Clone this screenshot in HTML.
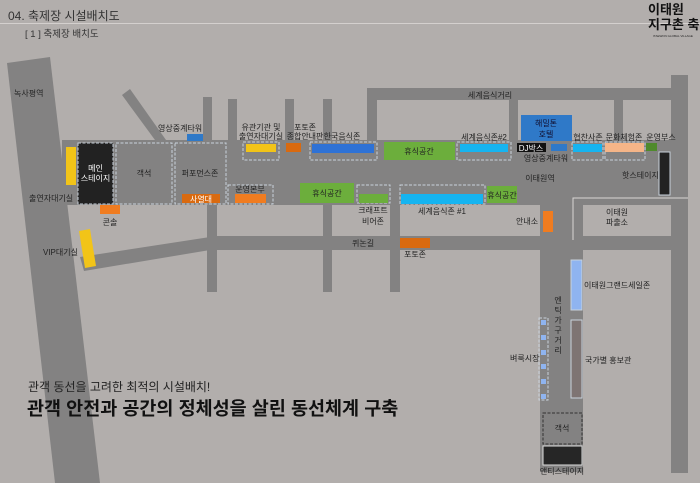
<!DOCTYPE html>
<html><head><meta charset="utf-8"><style>
html,body{margin:0;padding:0;background:#b2aeac;}
svg{display:block;font-family:"Liberation Sans","Noto Sans CJK KR",sans-serif;}
.t{font-size:8px;fill:#222;}
.w{font-size:8px;fill:#fff;}
.d{fill:none;stroke:#c9d3dc;stroke-width:1;stroke-dasharray:3 1.5;}
</style></head><body>
<svg width="700" height="483" viewBox="0 0 700 483" xmlns="http://www.w3.org/2000/svg">
<rect width="700" height="483" fill="#b2aeac"/>
<text x="8" y="20" style="font-size:12px;fill:#333">04. 축제장 시설배치도</text>
<line x1="0" y1="23.5" x2="700" y2="23.5" stroke="#d4d0ce" stroke-width="1"/>
<text x="25" y="37" style="font-size:9.5px;fill:#333">[ 1 ] 축제장 배치도</text>
<text x="648" y="14" style="font-size:13px;font-weight:bold;fill:#111">이태원</text>
<text x="648" y="29" style="font-size:13px;font-weight:bold;fill:#111">지구촌 축</text>
<text x="653" y="37" style="font-size:3px;fill:#222">ITAEWON GLOBAL VILLAGE</text>

<g fill="#838282">
<polygon points="7,63 50,57 100,483 55,483"/>
<rect x="62" y="140" width="626" height="65"/>
<rect x="671" y="75" width="17" height="398"/>
<rect x="367" y="88" width="321" height="12"/>
<rect x="367" y="88" width="10" height="55"/>
<rect x="509" y="88" width="9" height="55"/>
<rect x="614" y="95" width="9" height="48"/>
<rect x="203" y="97" width="9" height="45"/>
<rect x="228" y="99" width="9" height="43"/>
<rect x="285" y="99" width="9" height="43"/>
<rect x="323" y="99" width="9" height="43"/>
<polygon points="122,95 130,89 166,140 155,140"/>
<rect x="207" y="200" width="10" height="92"/>
<rect x="323" y="200" width="9" height="92"/>
<rect x="390" y="200" width="10" height="92"/>
<rect x="207" y="236" width="481" height="14"/>
<polygon points="80,257 210,237 210,250 84,271"/>
<rect x="540" y="200" width="43" height="272"/>
</g>
<rect x="585" y="206" width="86" height="30" fill="#b2aeac"/>
<polyline points="573,240 573,198 688,198" fill="none" stroke="#d8d6d4" stroke-width="1"/>

<rect x="66" y="147" width="10" height="38" fill="#f2c418"/>
<rect x="78" y="143" width="35" height="61" fill="#222"/>
<rect x="78" y="143" width="35" height="61" class="d"/>
<text x="95.5" y="171" class="w" text-anchor="middle">메인</text>
<text x="95.5" y="181" class="w" text-anchor="middle">스테이지</text>
<rect x="116" y="143" width="56" height="61" class="d"/>
<text x="144" y="176" class="t" text-anchor="middle">객석</text>
<rect x="175" y="143" width="51" height="61" class="d"/>
<text x="200" y="176" class="t" text-anchor="middle">퍼포먼스존</text>
<rect x="182" y="194" width="38" height="9" fill="#d96a10"/>
<text x="201" y="202" class="w" text-anchor="middle">사열대</text>
<rect x="228" y="185" width="45" height="19" class="d"/>
<rect x="235" y="194" width="31" height="9" fill="#f07c20"/>
<text x="250" y="192" class="t" text-anchor="middle">운영본부</text>
<text x="14" y="96" class="t">녹사평역</text>
<text x="29" y="201" class="t">출연자대기실</text>
<rect x="100" y="205" width="20" height="9" fill="#f07c20"/>
<text x="110" y="225" class="t" text-anchor="middle">콘솔</text>
<polygon points="79,231 90,229 96,266 85,268" fill="#f2c418"/>
<text x="43" y="255" class="t">VIP대기실</text>
<text x="158" y="131" class="t">영상중계타워</text>
<rect x="187" y="134" width="16" height="7" fill="#2f79c8"/>

<text x="261" y="130" class="t" text-anchor="middle">유관기관 및</text>
<text x="261" y="139" class="t" text-anchor="middle">출연자대기실</text>
<rect x="243" y="142" width="36" height="18" class="d"/>
<rect x="246" y="144" width="30" height="8" fill="#f2c418"/>
<text x="305" y="130" class="t" text-anchor="middle">포토존</text>
<text x="305" y="139" class="t" text-anchor="middle">종합안내판</text>
<rect x="286" y="143" width="15" height="9" fill="#d96a10"/>
<text x="342" y="139" class="t" text-anchor="middle">한국음식존</text>
<rect x="310" y="142" width="67" height="18" class="d"/>
<rect x="312" y="144" width="62" height="9" fill="#2e72d6"/>
<rect x="384" y="142" width="71" height="18" fill="#6cae3c"/>
<text x="419" y="154" class="t" text-anchor="middle">휴식공간</text>
<text x="484" y="140" class="t" text-anchor="middle">세계음식존#2</text>
<rect x="457" y="142" width="54" height="18" class="d"/>
<rect x="460" y="144" width="48" height="8" fill="#16b4f0"/>
<rect x="521" y="115" width="51" height="26" fill="#2f79c8"/>
<text x="546" y="126" style="font-size:8px;fill:#113" text-anchor="middle">해밀톤</text>
<text x="546" y="137" style="font-size:8px;fill:#113" text-anchor="middle">호텔</text>
<rect x="517" y="143" width="29" height="9" fill="#111"/>
<text x="531" y="151" class="w" text-anchor="middle">DJ박스</text>
<rect x="551" y="144" width="16" height="7" fill="#2f79c8"/>
<text x="546" y="161" class="t" text-anchor="middle">영상중계타워</text>
<text x="490" y="98" class="t" text-anchor="middle">세계음식거리</text>
<text x="588" y="140" class="t" text-anchor="middle">협찬사존</text>
<rect x="572" y="142" width="31" height="18" class="d"/>
<rect x="573" y="144" width="29" height="8" fill="#16b4f0"/>
<text x="624" y="140" class="t" text-anchor="middle">문화체험존</text>
<rect x="605" y="142" width="40" height="18" class="d"/>
<rect x="605" y="143" width="39" height="9" fill="#f5b588"/>
<text x="661" y="140" class="t" text-anchor="middle">운영부스</text>
<rect x="646" y="143" width="11" height="8" fill="#4f8a2c"/>
<rect x="659" y="152" width="11" height="43" fill="#222" stroke="#c9d3dc" stroke-width="1"/>
<text x="622" y="178" class="t">핫스테이지</text>
<text x="540" y="181" class="t" text-anchor="middle">이태원역</text>

<rect x="300" y="183" width="54" height="20" fill="#6cae3c"/>
<text x="327" y="196" class="t" text-anchor="middle">휴식공간</text>
<rect x="357" y="185" width="33" height="18" class="d"/>
<rect x="359" y="194" width="29" height="9" fill="#6cae3c"/>
<text x="373" y="213" class="t" text-anchor="middle">크래프트</text>
<text x="373" y="224" class="t" text-anchor="middle">비어존</text>
<rect x="400" y="185" width="85" height="19" class="d"/>
<rect x="401" y="194" width="82" height="10" fill="#16b4f0"/>
<text x="442" y="214" class="t" text-anchor="middle">세계음식존 #1</text>
<rect x="487" y="186" width="30" height="17" fill="#6cae3c"/>
<text x="502" y="198" class="t" text-anchor="middle">휴식공간</text>
<rect x="543" y="211" width="10" height="21" fill="#f07c20"/>
<text x="516" y="224" class="t">안내소</text>
<text x="617" y="215" class="t" text-anchor="middle">이태원</text>
<text x="617" y="225" class="t" text-anchor="middle">파출소</text>
<text x="352" y="246" class="t">퀴논길</text>
<rect x="400" y="238" width="30" height="10" fill="#d96a10"/>
<text x="415" y="257" class="t" text-anchor="middle">포토존</text>

<text x="558" y="303" class="t" text-anchor="middle">엔</text>
<text x="558" y="313" class="t" text-anchor="middle">틱</text>
<text x="558" y="323" class="t" text-anchor="middle">가</text>
<text x="558" y="333" class="t" text-anchor="middle">구</text>
<text x="558" y="343" class="t" text-anchor="middle">거</text>
<text x="558" y="353" class="t" text-anchor="middle">리</text>
<rect x="571" y="260" width="11" height="50" fill="#8fb4f0" stroke="#c9d3dc"/>
<text x="584" y="288" class="t">이태원그랜드세일존</text>
<rect x="539" y="318" width="9" height="82" class="d"/>
<g fill="#8fb4f0">
<rect x="541" y="320" width="5" height="5"/><rect x="541" y="335" width="5" height="5"/>
<rect x="541" y="350" width="5" height="5"/><rect x="541" y="364" width="5" height="5"/>
<rect x="541" y="379" width="5" height="5"/><rect x="541" y="394" width="5" height="5"/>
</g>
<text x="510" y="361" class="t">벼룩시장</text>
<rect x="571" y="320" width="11" height="78" fill="#7e7473" stroke="#c9d3dc"/>
<text x="585" y="363" class="t">국가별 홍보관</text>
<rect x="543" y="413" width="39" height="31" class="d" style="stroke:#333"/>
<text x="562" y="431" class="t" text-anchor="middle">객석</text>
<rect x="543" y="446" width="39" height="19" fill="#262626" stroke="#ddd"/>
<text x="562" y="474" class="t" text-anchor="middle">앤티스테이지</text>

<text x="28" y="391" style="font-size:12px;fill:#222">관객 동선을 고려한 최적의 시설배치!</text>
<text x="27" y="415" style="font-size:18.5px;font-weight:bold;fill:#111">관객 안전과 공간의 정체성을 살린 동선체계 구축</text>
</svg>
</body></html>
